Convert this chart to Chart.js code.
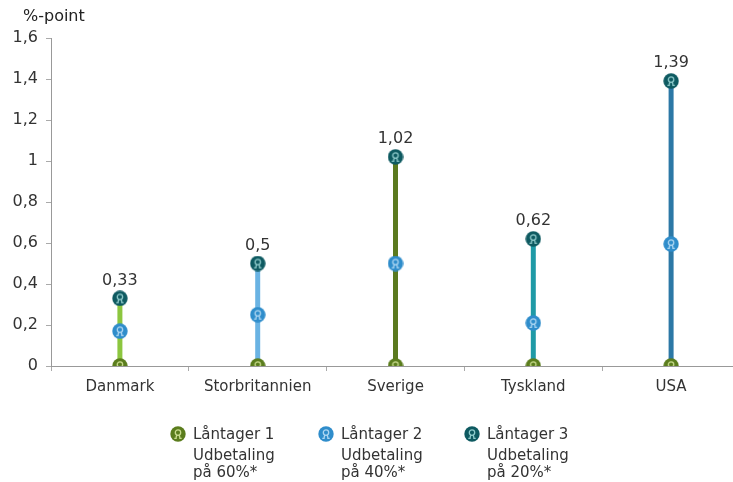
<!DOCTYPE html>
<html>
<head>
<meta charset="utf-8">
<script src="https://cdn.jsdelivr.net/npm/chart.js@4/dist/chart.umd.min.js"></script>
<style>
  html, body { margin: 0; padding: 0; background: #fff; overflow: hidden; }
  #chart { display: block; }
</style>
</head>
<body>
<canvas id="chart" width="753" height="482"></canvas>
<script>
// Lande og renteændring i %-point for de tre låntagertyper
const countries = ['Danmark', 'Storbritannien', 'Sverige', 'Tyskland', 'USA'];
const laantager1 = [0, 0, 0, 0, 0];
const laantager2 = [0.17, 0.25, 0.5, 0.21, 0.595];
const laantager3 = [0.33, 0.5, 1.02, 0.62, 1.39];
const yTicks = [0, 0.2, 0.4, 0.6, 0.8, 1, 1.2, 1.4, 1.6];

const borrowerNames = ['Låntager 1', 'Låntager 2', 'Låntager 3'];
const borrowerNotes = [['Udbetaling', 'på 60%*'], ['Udbetaling', 'på 40%*'], ['Udbetaling', 'på 20%*']];

const lineColors = ['#8cc63f', '#6ab3e3', '#5b7a1f', '#1f9aa6', '#2c78a6'];
const markerFill = ['#5b7d1d', '#2f8dcb', '#0e5a61'];
const markerIcon = ['#c9dc8e', '#acd6f2', '#8fcbcb'];

const fmt = v => String(Math.round(v * 100) / 100).replace('.', ',');
const FONT = '"DejaVu Sans", Verdana, sans-serif';

// Round marker with a small person symbol
function makeMarker(fill, icon) {
  const s = 16, c = document.createElement('canvas');
  c.width = s; c.height = s;
  const g = c.getContext('2d');
  g.fillStyle = fill;
  g.beginPath(); g.arc(s / 2, s / 2, s / 2 - 0.3, 0, Math.PI * 2); g.fill();
  g.strokeStyle = icon; g.lineWidth = 1.3;
  g.beginPath(); g.arc(8, 6.6, 2.7, 0, Math.PI * 2); g.stroke();
  g.beginPath();
  g.moveTo(4.3, 12.4); g.lineTo(6.1, 12.4);
  g.quadraticCurveTo(6.1, 10.5, 6.8, 9.1);
  g.moveTo(11.7, 12.4); g.lineTo(9.9, 12.4);
  g.quadraticCurveTo(9.9, 10.5, 9.2, 9.1);
  g.stroke();
  return c;
}
const markers = markerFill.map((f, i) => makeMarker(f, markerIcon[i]));

const datasets = countries.map((c, i) => ({
  label: c,
  data: [
    { x: c, y: laantager1[i] },
    { x: c, y: laantager2[i] },
    { x: c, y: laantager3[i] }
  ],
  borderColor: lineColors[i],
  borderWidth: 5,
  pointStyle: markers,
  pointRadius: 8,
  pointHoverRadius: 8,
  fill: false,
  tension: 0
}));

const extras = {
  id: 'extras',
  afterDatasetsDraw(chart) {
    const ctx = chart.ctx, x = chart.scales.x, y = chart.scales.y;
    ctx.save();
    ctx.fillStyle = '#333';
    ctx.font = '16px ' + FONT;
    ctx.textAlign = 'center';
    ctx.textBaseline = 'middle';
    countries.forEach((c, i) => {
      ctx.fillText(fmt(laantager3[i]), x.getPixelForValue(i), y.getPixelForValue(laantager3[i]) - 18);
    });
    // Akse-titel
    ctx.textAlign = 'left';
    ctx.fillStyle = '#222';
    ctx.fillText('%-point', 23, 17);
    // Forklaring
    const lx = [178, 326, 472];
    ctx.font = '15px ' + FONT;
    ctx.fillStyle = '#333';
    lx.forEach((px, i) => {
      ctx.drawImage(markers[i], px - 8, 434 - 8);
      ctx.fillText(borrowerNames[i], px + 15, 435);
      ctx.fillText(borrowerNotes[i][0], px + 15, 456);
      ctx.fillText(borrowerNotes[i][1], px + 15, 473);
    });
    ctx.restore();
  }
};

new Chart(document.getElementById('chart'), {
  type: 'line',
  data: { labels: countries, datasets },
  options: {
    responsive: false,
    animation: false,
    layout: { padding: { top: 38, left: 0, right: 0, bottom: 0 } },
    plugins: { legend: { display: false }, tooltip: { enabled: false } },
    scales: {
      x: {
        type: 'category',
        offset: true,
        grid: { offset: true, drawOnChartArea: false, tickLength: 5, color: '#aaa' },
        border: { color: '#999' },
        ticks: { color: '#333', font: { family: FONT, size: 15 }, padding: 7, maxRotation: 0, autoSkip: false },
        afterFit(s) { s.height = 116; }
      },
      y: {
        min: 0,
        max: 1.6,
        afterBuildTicks(s) { s.ticks = yTicks.map(v => ({ value: v })); },
        grid: { drawOnChartArea: false, tickLength: 5, color: '#aaa' },
        border: { color: '#999' },
        ticks: { color: '#333', font: { family: FONT, size: 16 }, padding: 8, callback: v => fmt(v) },
        afterFit(s) { s.width = 51; }
      }
    }
  },
  plugins: [extras]
});
</script>
</body>
</html>
